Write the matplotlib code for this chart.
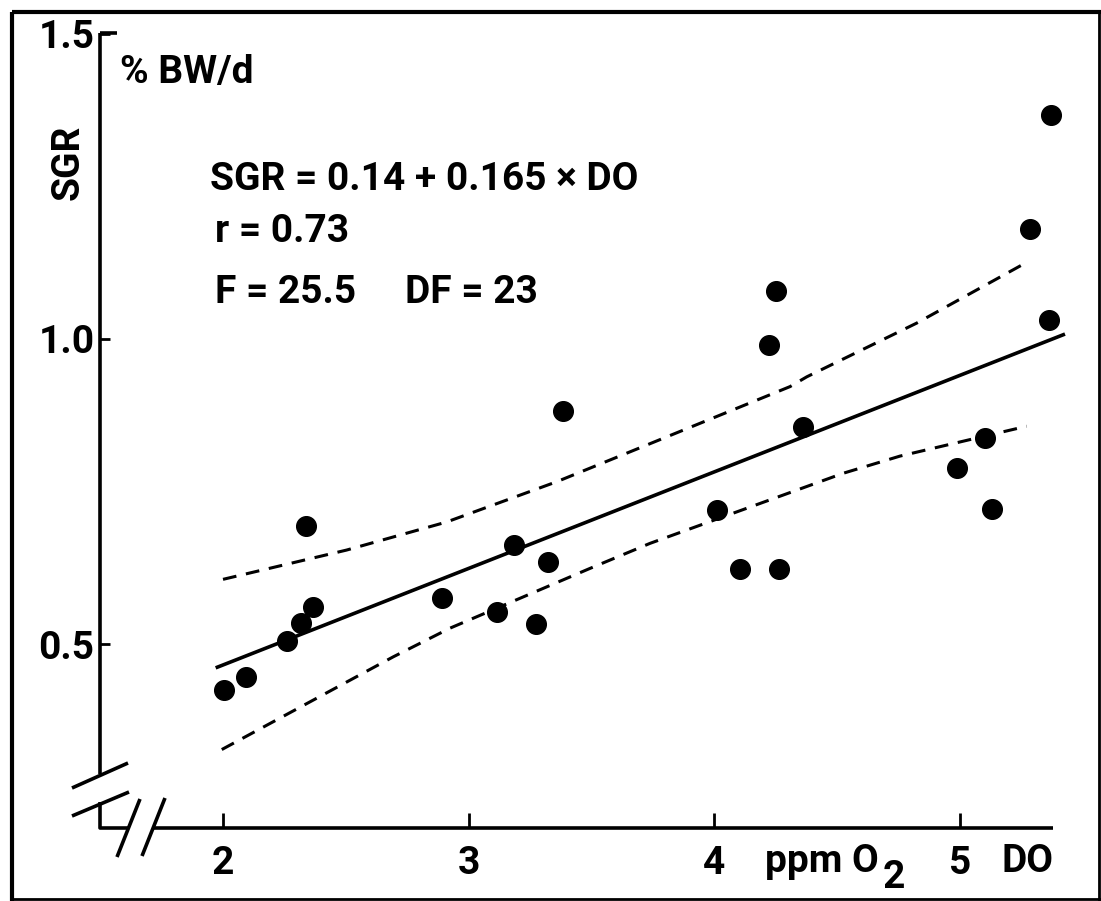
import numpy as np
import matplotlib.pyplot as plt
from matplotlib.lines import Line2D

# DO (ppm O2) and SGR (% BW/d)
do_vals = [2.005, 2.094, 2.262, 2.316, 2.338, 2.365, 2.890, 3.115, 3.186, 3.273,
           3.322, 3.383, 4.009, 4.104, 4.223, 4.251, 4.261, 4.362, 4.986, 5.103,
           5.128, 5.285, 5.362, 5.370]
sgr_vals = [0.425, 0.446, 0.505, 0.535, 0.693, 0.560, 0.575, 0.552, 0.663, 0.533,
            0.634, 0.882, 0.719, 0.623, 0.990, 1.079, 0.623, 0.856, 0.789, 0.838,
            0.721, 1.181, 1.031, 1.367]

# regression line as drawn
fit_x = [1.977, 5.42]
fit_y = [0.462, 1.007]

# confidence band (dashed), read at a few points
upper_x = [2.0, 2.503, 2.91, 3.358, 4.308, 4.376, 4.823, 5.268]
upper_y = [0.606, 0.654, 0.700, 0.766, 0.922, 0.938, 1.026, 1.125]
lower_x = [1.995, 2.693, 2.924, 3.494, 3.738, 4.525, 4.755, 5.271]
lower_y = [0.327, 0.479, 0.526, 0.624, 0.665, 0.780, 0.808, 0.857]

x_ticks = [2, 3, 4, 5]
y_ticks = [0.5, 1.0, 1.5]
y_ticklabels = ['0.5', '1.0', '1.5']

W, H = 1101, 901
FS = 28

plt.rcParams['font.family'] = ['Roboto', 'DejaVu Sans']
plt.rcParams['font.weight'] = 'bold'

fig = plt.figure(figsize=(W / 100, H / 100), dpi=100)
ax = fig.add_axes([100 / W, 1 - 828 / H, 975 / W, 795 / H])
ax.set_xlim(1.4994, 5.4676)
ax.set_ylim(0.1984, 1.5016)
for s in ax.spines.values():
    s.set_visible(False)


def fp(x, y):
    return x / W, 1 - y / H


def fline(xs, ys, lw=2.6):
    fig.add_artist(Line2D([x / W for x in xs], [1 - y / H for y in ys],
                          transform=fig.transFigure, color='black', lw=lw,
                          solid_capstyle='butt'))


ax.scatter(do_vals, sgr_vals, s=200, color='black', zorder=3, clip_on=False)
ax.plot(fit_x, fit_y, color='black', lw=2.6, clip_on=False)
ax.plot(upper_x, upper_y, color='black', lw=2.2, linestyle=(0, (4.5, 3.2)), clip_on=False)
ax.plot(lower_x, lower_y, color='black', lw=2.2, linestyle=(0, (4.5, 3.2)), clip_on=False)

ax.set_xticks(x_ticks)
ax.set_xticklabels([str(t) for t in x_ticks])
ax.set_yticks(y_ticks)
ax.set_yticklabels(y_ticklabels)
ax.tick_params(axis='x', direction='in', length=11, width=2, pad=12, labelsize=FS)
ax.tick_params(axis='y', direction='in', length=7, width=2, pad=4, labelsize=FS)

# axes with breaks
fline([100, 100], [33, 774])
fline([100, 100, 128], [802, 828, 828])
fline([153, 1053], [828, 828])
fline([100, 117], [33, 33])
# break marks
fline([72, 128], [788, 763])
fline([72, 129], [816, 792])
fline([117, 140], [857, 799])
fline([142, 165], [856, 798])

# frame round the picture
fline([12, 12], [12, 901], lw=3)
fline([12, 1101], [12, 12], lw=3)
fline([1099, 1099], [12, 901], lw=2)
fline([12, 1101], [899, 899], lw=2)

fig.text(*fp(68, 162), 'SGR', rotation=90, ha='center', va='center', fontsize=FS)
fig.text(*fp(120, 83), '% BW/d', ha='left', va='baseline', fontsize=FS)
fig.text(*fp(210, 190), 'SGR = 0.14 + 0.165 × DO', ha='left', va='baseline', fontsize=FS)
fig.text(*fp(215, 242), 'r = 0.73', ha='left', va='baseline', fontsize=FS)
fig.text(*fp(215, 303), 'F = 25.5', ha='left', va='baseline', fontsize=FS)
fig.text(*fp(405, 303), 'DF = 23', ha='left', va='baseline', fontsize=FS)
fig.text(*fp(879, 872), 'ppm O', ha='right', va='baseline', fontsize=FS)
fig.text(*fp(883, 888), '2', ha='left', va='baseline', fontsize=FS)
fig.text(*fp(1053, 872), 'DO', ha='right', va='baseline', fontsize=FS)

fig.savefig('out.png', dpi=100)
